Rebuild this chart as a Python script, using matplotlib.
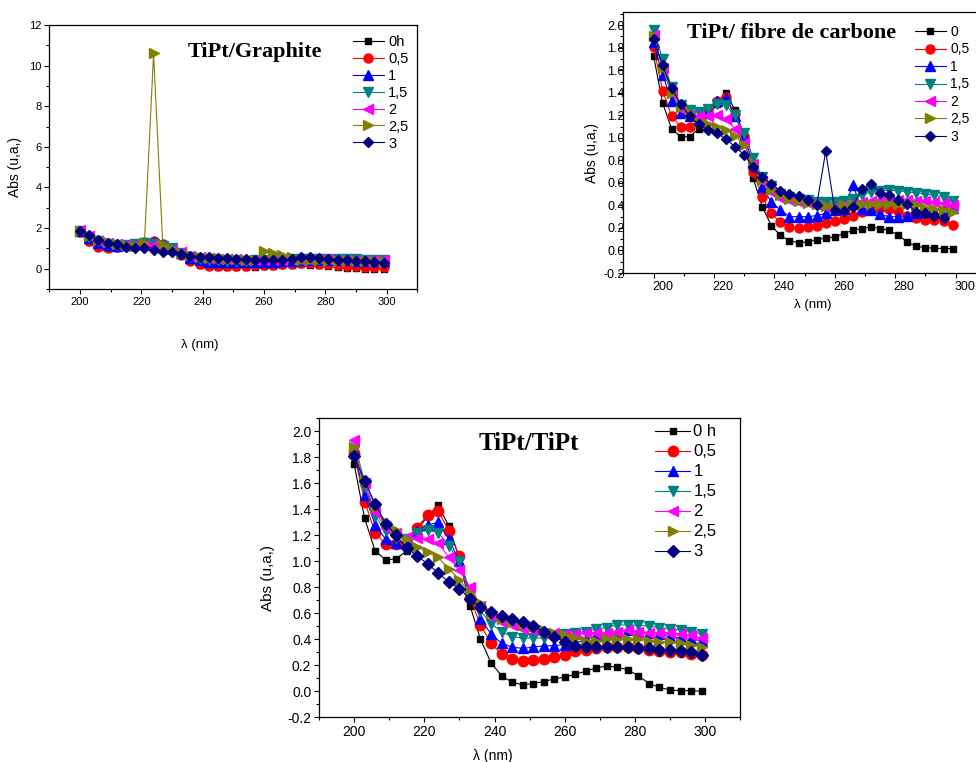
import numpy as np
import matplotlib
matplotlib.use("Agg")
import matplotlib.pyplot as plt
from matplotlib.ticker import MultipleLocator, FormatStrFormatter
from matplotlib.transforms import ScaledTranslation, Bbox, TransformedBbox

plt.rcParams["font.family"] = ["Liberation Sans", "DejaVu Sans"]
plt.rcParams["axes.unicode_minus"] = False

W, H = 976, 762

# wavelength grid (nm), one reading every 3 nm
wl = np.arange(200, 300, 3)

colors = ["black", "red", "blue", "#008080", "magenta", "#808000", "#000080"]
markers = ["s", "o", "^", "v", "<", ">", "D"]

# --- TiPt/Graphite ---
gr_labels = ["0h", "0,5", "1", "1,5", "2", "2,5", "3"]
gr_0 = [1.75, 1.30, 1.10, 1.00, 1.02, 1.08, 1.20, 1.30, 1.38, 1.22, 1.00, 0.65, 0.38, 0.20, 0.12, 0.08, 0.07,
        0.08, 0.09, 0.10, 0.12, 0.14, 0.17, 0.20, 0.22, 0.20, 0.18, 0.12, 0.06, 0.02, 0.01, 0.0, 0.0, 0.0]
gr_05 = [1.80, 1.35, 1.08, 1.02, 1.05, 1.10, 1.22, 1.32, 1.36, 1.20, 1.00, 0.68, 0.40, 0.22, 0.15, 0.13, 0.12,
         0.13, 0.14, 0.16, 0.18, 0.20, 0.22, 0.24, 0.26, 0.26, 0.25, 0.22, 0.18, 0.14, 0.12, 0.10, 0.09, 0.08]
gr_1 = [1.85, 1.50, 1.28, 1.17, 1.14, 1.15, 1.22, 1.27, 1.30, 1.17, 1.00, 0.75, 0.55, 0.42, 0.35, 0.32, 0.31,
        0.31, 0.32, 0.33, 0.34, 0.35, 0.37, 0.40, 0.42, 0.43, 0.43, 0.43, 0.42, 0.41, 0.40, 0.39, 0.38, 0.37]
gr_15 = [1.87, 1.56, 1.34, 1.22, 1.18, 1.17, 1.22, 1.25, 1.24, 1.13, 1.00, 0.78, 0.60, 0.50, 0.44, 0.41, 0.40,
         0.40, 0.40, 0.41, 0.42, 0.43, 0.45, 0.47, 0.48, 0.49, 0.49, 0.49, 0.48, 0.47, 0.46, 0.45, 0.44, 0.43]
gr_2 = [1.92, 1.60, 1.38, 1.26, 1.22, 1.19, 1.18, 1.18, 1.15, 1.04, 0.93, 0.80, 0.64, 0.56, 0.51, 0.49, 0.47,
        0.46, 0.45, 0.44, 0.43, 0.43, 0.44, 0.44, 0.45, 0.45, 0.46, 0.46, 0.45, 0.45, 0.44, 0.44, 0.43, 0.42]
gr_25 = [1.88, 1.62, 1.42, 1.30, 1.24, 1.18, 1.14, 1.25, 10.6, 1.15, 0.95, 0.76, 0.66, 0.58, 0.54, 0.51, 0.49,
         0.47, 0.45, 0.43, 0.89, 0.76, 0.67, 0.59, 0.45, 0.42, 0.41, 0.40, 0.40, 0.39, 0.38, 0.37, 0.36, 0.35]
gr_3 = [1.87, 1.66, 1.41, 1.28, 1.22, 1.08, 1.00, 1.00, 0.92, 0.84, 0.80, 0.72, 0.63, 0.56, 0.56, 0.51, 0.51,
        0.46, 0.46, 0.43, 0.43, 0.43, 0.43, 0.46, 0.56, 0.56, 0.51, 0.46, 0.43, 0.43, 0.39, 0.39, 0.35, 0.30]

# --- TiPt/ fibre de carbone ---
fc_labels = ["0", "0,5", "1", "1,5", "2", "2,5", "3"]
fc_0 = [1.73, 1.31, 1.08, 1.01, 1.01, 1.08, 1.20, 1.30, 1.40, 1.245, 1.02, 0.64, 0.39, 0.22, 0.135, 0.085, 0.07,
        0.075, 0.097, 0.11, 0.12, 0.15, 0.18, 0.195, 0.21, 0.195, 0.18, 0.135, 0.075, 0.037, 0.025, 0.02, 0.017, 0.017]
fc_05 = [1.81, 1.42, 1.19, 1.10, 1.10, 1.13, 1.25, 1.33, 1.36, 1.21, 1.02, 0.70, 0.475, 0.33, 0.25, 0.21, 0.20,
         0.21, 0.22, 0.245, 0.26, 0.28, 0.31, 0.34, 0.37, 0.38, 0.37, 0.35, 0.31, 0.29, 0.275, 0.27, 0.26, 0.23]
fc_1 = [1.85, 1.56, 1.33, 1.22, 1.19, 1.18, 1.24, 1.33, 1.35, 1.19, 1.02, 0.77, 0.56, 0.43, 0.36, 0.30, 0.30,
        0.30, 0.31, 0.33, 0.36, 0.37, 0.58, 0.37, 0.36, 0.32, 0.30, 0.30, 0.31, 0.33, 0.34, 0.35, 0.36, 0.38]
fc_15 = [1.96, 1.70, 1.45, 1.29, 1.245, 1.23, 1.26, 1.30, 1.29, 1.20, 1.04, 0.82, 0.65, 0.57, 0.505, 0.475, 0.46,
         0.445, 0.43, 0.43, 0.43, 0.44, 0.46, 0.49, 0.52, 0.53, 0.535, 0.53, 0.52, 0.51, 0.50, 0.49, 0.475, 0.44]
fc_2 = [1.91, 1.62, 1.40, 1.26, 1.20, 1.19, 1.19, 1.20, 1.17, 1.08, 0.95, 0.77, 0.62, 0.52, 0.47, 0.45, 0.43,
        0.42, 0.40, 0.39, 0.39, 0.40, 0.41, 0.43, 0.44, 0.45, 0.45, 0.45, 0.45, 0.44, 0.44, 0.43, 0.42, 0.40]
fc_25 = [1.90, 1.62, 1.40, 1.27, 1.22, 1.14, 1.12, 1.10, 1.07, 1.02, 0.94, 0.77, 0.63, 0.535, 0.49, 0.46, 0.44,
         0.42, 0.41, 0.395, 0.39, 0.40, 0.40, 0.41, 0.41, 0.41, 0.41, 0.41, 0.41, 0.40, 0.38, 0.37, 0.36, 0.34]
fc_3 = [1.88, 1.645, 1.44, 1.30, 1.19, 1.12, 1.07, 1.04, 0.99, 0.92, 0.85, 0.74, 0.65, 0.59, 0.53, 0.505, 0.48,
        0.445, 0.40, 0.88, 0.36, 0.35, 0.39, 0.55, 0.59, 0.51, 0.49, 0.45, 0.41, 0.34, 0.33, 0.31, 0.29, np.nan]

# --- TiPt/TiPt ---
tt_labels = ["0 h", "0,5", "1", "1,5", "2", "2,5", "3"]
tt_0 = [1.75, 1.33, 1.08, 1.01, 1.02, 1.08, 1.24, 1.35, 1.43, 1.27, 1.02, 0.66, 0.40, 0.22, 0.12, 0.07, 0.05,
        0.06, 0.075, 0.095, 0.11, 0.13, 0.155, 0.18, 0.195, 0.185, 0.165, 0.12, 0.06, 0.03, 0.01, 0.005, 0.005, 0.0]
tt_05 = [1.83, 1.46, 1.22, 1.13, 1.13, 1.12, 1.26, 1.36, 1.39, 1.23, 1.04, 0.72, 0.51, 0.37, 0.285, 0.25, 0.235,
         0.243, 0.25, 0.264, 0.28, 0.31, 0.32, 0.33, 0.34, 0.34, 0.34, 0.33, 0.32, 0.31, 0.30, 0.30, 0.29, 0.28]
tt_1 = [1.84, 1.51, 1.28, 1.17, 1.14, 1.16, 1.23, 1.28, 1.30, 1.17, 1.00, 0.76, 0.56, 0.44, 0.37, 0.34, 0.33,
        0.34, 0.35, 0.35, 0.36, 0.37, 0.40, 0.43, 0.45, 0.46, 0.47, 0.46, 0.45, 0.44, 0.42, 0.41, 0.40, 0.39]
tt_15 = [1.86, 1.57, 1.35, 1.23, 1.18, 1.17, 1.22, 1.24, 1.22, 1.12, 1.00, 0.78, 0.62, 0.52, 0.46, 0.42, 0.41,
         0.41, 0.41, 0.42, 0.44, 0.45, 0.46, 0.48, 0.49, 0.51, 0.51, 0.51, 0.50, 0.49, 0.48, 0.47, 0.46, 0.44]
tt_2 = [1.93, 1.60, 1.38, 1.26, 1.22, 1.19, 1.18, 1.17, 1.14, 1.03, 0.93, 0.80, 0.66, 0.58, 0.53, 0.51, 0.48,
        0.47, 0.45, 0.45, 0.44, 0.44, 0.45, 0.45, 0.45, 0.46, 0.47, 0.46, 0.45, 0.45, 0.45, 0.44, 0.43, 0.41]
tt_25 = [1.88, 1.62, 1.42, 1.30, 1.24, 1.17, 1.11, 1.07, 1.03, 0.94, 0.86, 0.76, 0.68, 0.60, 0.56, 0.53, 0.51,
         0.50, 0.47, 0.45, 0.43, 0.41, 0.39, 0.39, 0.40, 0.40, 0.40, 0.40, 0.39, 0.38, 0.38, 0.37, 0.36, 0.34]
tt_3 = [1.81, 1.62, 1.44, 1.29, 1.20, 1.10, 1.04, 0.98, 0.91, 0.84, 0.79, 0.71, 0.65, 0.61, 0.58, 0.56, 0.53,
        0.50, 0.46, 0.42, 0.38, 0.35, 0.34, 0.34, 0.34, 0.34, 0.34, 0.33, 0.33, 0.32, 0.32, 0.31, 0.30, 0.28]


def fx(x):
    return x / W


def fy(y):
    return 1 - y / H


fig = plt.figure(figsize=(W / 100, H / 100), dpi=100)


def panel(box, series, labels, ylim, ymaj, ymin, yfmt, tick_fs, ms, leg):
    left, top, right, bottom = box
    ax = fig.add_axes([fx(left), fy(bottom), fx(right) - fx(left), (bottom - top) / H])
    for ys, c, m in zip(series, colors, markers):
        size = ms
        if m == "s":
            size = ms * 0.65
        elif m == "D":
            size = ms * 0.8
        ax.plot(wl, ys, color=c, marker=m, ms=size, lw=0.8, mec=c, mfc=c, clip_on=False)
    ax.set_xlim(190, 310)
    ax.set_ylim(*ylim)
    ax.xaxis.set_major_locator(MultipleLocator(20))
    ax.xaxis.set_minor_locator(MultipleLocator(10))
    ax.yaxis.set_major_locator(MultipleLocator(ymaj))
    ax.yaxis.set_minor_locator(MultipleLocator(ymin))
    ax.yaxis.set_major_formatter(FormatStrFormatter(yfmt))
    ax.tick_params(which="both", direction="out", top=False, right=False, width=0.8,
                   labelsize=tick_fs, pad=2)
    ax.tick_params(which="major", length=3.5)
    ax.tick_params(which="minor", length=2)
    for s in ax.spines.values():
        s.set_linewidth(0.9)
    x0, y0, fs, hl, hp, ls = leg
    ax.legend(labels, loc="upper left", bbox_to_anchor=(fx(x0), fy(y0)),
              bbox_transform=fig.transFigure, frameon=False, borderpad=0,
              borderaxespad=0, handlelength=hl, handletextpad=hp, labelspacing=ls,
              fontsize=fs)
    return ax


# TiPt/Graphite
ax1 = panel((49.3, 25, 417.4, 289), [gr_0, gr_05, gr_1, gr_15, gr_2, gr_25, gr_3], gr_labels,
            (-1, 12), 2, 1, "%d", 8, 6.5, (353, 35, 10.5, 2.1, 0.3, 0.2))
fig.text(fx(254.7), fy(57.3), "TiPt/Graphite", ha="center", va="baseline",
         family="Liberation Serif", weight="bold", fontsize=16)
fig.text(fx(15), fy(167), "Abs (u,a,)", rotation=90, ha="center", va="center", fontsize=10)
fig.text(fx(200), fy(345), "λ (nm)", ha="center", va="center", fontsize=9.5)

# TiPt/ fibre de carbone
ax2 = panel((623.3, 11.7, 985.8, 273), [fc_0, fc_05, fc_1, fc_15, fc_2, fc_25, fc_3], fc_labels,
            (-0.2, 2.12), 0.2, 0.1, "%.1f", 9, 6.5, (915, 25, 10, 2.2, 0.35, 0.25))
shift = ScaledTranslation(0.09, 0, fig.dpi_scale_trans)
clip = TransformedBbox(Bbox([[-1, -1], [0, 2]]), ax2.transAxes)
for lab in ax2.get_xticklabels():
    lab.set_transform(lab.get_transform() + shift)
for lab in ax2.get_yticklabels():
    lab.set_transform(lab.get_transform() + shift)
    lab.set_clip_box(clip)
    lab.set_clip_on(True)
fig.text(fx(791.7), fy(38.3), "TiPt/ fibre de carbone", ha="center", va="baseline",
         family="Liberation Serif", weight="bold", fontsize=16)
fig.text(fx(591.7), fy(153.3), "Abs (u,a,)", rotation=90, ha="center", va="center", fontsize=10)
fig.text(fx(813), fy(305), "λ (nm)", ha="center", va="center", fontsize=9.5)

# TiPt/TiPt
ax3 = panel((319, 418.3, 740.2, 717.3), [tt_0, tt_05, tt_1, tt_15, tt_2, tt_25, tt_3], tt_labels,
            (-0.2, 2.1), 0.2, 0.1, "%.1f", 10, 7.5, (655, 424.5, 12, 2.1, 0.2, 0.3))
fig.text(fx(529), fy(450), "TiPt/TiPt", ha="center", va="baseline",
         family="Liberation Serif", weight="bold", fontsize=18)
fig.text(fx(268), fy(578), "Abs (u,a,)", rotation=90, ha="center", va="center", fontsize=11)
fig.text(fx(493), fy(756), "λ (nm)", ha="center", va="center", fontsize=10)

fig.savefig("out.png", dpi=100)
